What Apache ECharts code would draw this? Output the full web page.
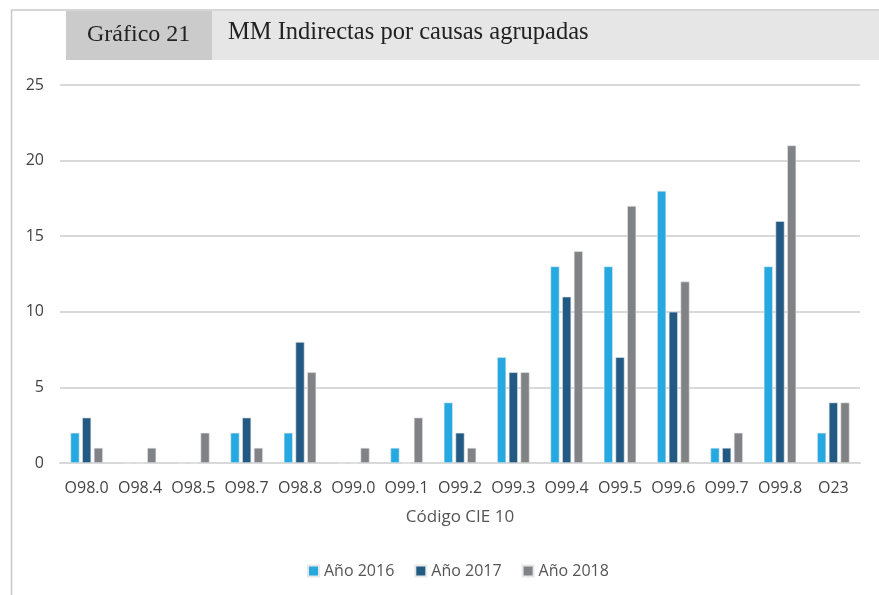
<!DOCTYPE html>
<html>
<head>
<meta charset="utf-8">
<script src="https://cdn.jsdelivr.net/npm/echarts@6/dist/echarts.min.js"></script>
<style>
html,body{margin:0;padding:0;background:#fff;}
#chart{width:879px;height:595px;}
</style>
</head>
<body>
<div id="chart"></div>
<script>
// datos
var categories = ["O98.0","O98.4","O98.5","O98.7","O98.8","O99.0","O99.1","O99.2","O99.3","O99.4","O99.5","O99.6","O99.7","O99.8","O23"];
var seriesNames = ["Año 2016","Año 2017","Año 2018"];
var values2016 = [2,0,0,2,2,0,1,4,7,13,13,18,1,13,2];
var values2017 = [3,0,0,3,8,0,0,2,6,11,7,10,1,16,4];
var values2018 = [1,1,2,1,6,1,3,1,6,14,17,12,2,21,4];
var colors = ["#25a9e0","#235a84","#818285"];

var chart = echarts.init(document.getElementById('chart'));

function mkSerie(name, data, color){
    return {
        name: name,
        type: 'bar',
        data: data,
        barWidth: 9,
        barGap: '30%',
        itemStyle: {color: color, borderColor: '#e8e8e8', borderWidth: 0.6},
        animation: false
    };
}

var option = {
    backgroundColor: '#fff',
    graphic: [
        //marco
        {type:'line', shape:{x1:11.5,y1:10,x2:11.5,y2:595}, style:{stroke:'#c8c8c8',lineWidth:1.5}},
        {type:'line', shape:{x1:11,y1:10,x2:879,y2:10}, style:{stroke:'#c8c8c8',lineWidth:1.5}},
        //banda del titulo
        {type:'rect', shape:{x:66,y:11,width:813,height:49}, style:{fill:'#e6e6e6'}},
        {type:'rect', shape:{x:66,y:11,width:146,height:49}, style:{fill:'#cbcbcb'}},
        {type:'text', left:87, top:23, style:{text:'Gráfico 21', font:'24px "Liberation Serif"', fill:'#222'}},
        {type:'text', left:228, top:20, style:{text:'MM Indirectas por causas agrupadas', font:'24.5px "Liberation Serif"', fill:'#222'}}
    ],
    grid: {left:60, right:19, top:85, bottom:132, containLabel:false},
    legend: {
        data: seriesNames,
        bottom: 11,
        left: 302,
        itemWidth: 11,
        itemHeight: 11,
        itemGap: 20,
        icon: 'rect',
        textStyle: {fontFamily:'Open Sans', fontSize:16, color:'#555'}
    },
    xAxis: {
        type: 'category',
        data: categories,
        name: 'Código CIE 10',
        nameLocation: 'middle',
        nameGap: 46,
        nameTextStyle: {fontFamily:'Open Sans', fontSize:17, color:'#555'},
        axisLine: {lineStyle:{color:'#d9d9d9', width:2}},
        axisTick: {show:false},
        axisLabel: {fontFamily:'Open Sans', fontSize:16, color:'#444', margin:17, interval:0}
    },
    yAxis: {
        type: 'value',
        min: 0,
        max: 25,
        interval: 5,
        axisLine: {show:false},
        axisTick: {show:false},
        axisLabel: {fontFamily:'Open Sans', fontSize:16, color:'#444', margin:16},
        splitLine: {lineStyle:{color:'#d9d9d9', width:2}}
    },
    series: [
        mkSerie(seriesNames[0], values2016, colors[0]),
        mkSerie(seriesNames[1], values2017, colors[1]),
        mkSerie(seriesNames[2], values2018, colors[2])
    ]
};
chart.setOption(option);
</script>
</body>
</html>
